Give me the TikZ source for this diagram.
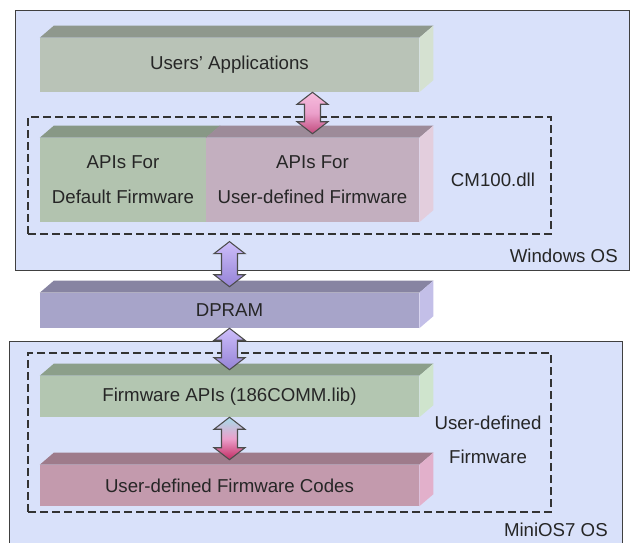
\documentclass[tikz,border=0pt]{standalone}
\usepackage{tikz}
\usepackage{xcolor}
\usepackage{fontspec}
\setmainfont{Liberation Sans}
\usetikzlibrary{calc}

\definecolor{osbg}{HTML}{D9E1FA}
\definecolor{uafront}{HTML}{B9C3B7}
\definecolor{uatop}{HTML}{8F988D}
\definecolor{uaside}{HTML}{D5E1D1}
\definecolor{deffront}{HTML}{B2C3AF}
\definecolor{deftop}{HTML}{889886}
\definecolor{usrfront}{HTML}{C3AFBF}
\definecolor{usrtop}{HTML}{9D8B99}
\definecolor{usrside}{HTML}{E3CEDD}
\definecolor{dpfront}{HTML}{A7A4C9}
\definecolor{dptop}{HTML}{8784A2}
\definecolor{dpside}{HTML}{C3BFE8}
\definecolor{fwfront}{HTML}{B3C6B1}
\definecolor{fwtop}{HTML}{8C9F8A}
\definecolor{fwside}{HTML}{CFE4CD}
\definecolor{cdfront}{HTML}{C39AAD}
\definecolor{cdtop}{HTML}{9E7B8B}
\definecolor{cdside}{HTML}{E2B0CB}
\definecolor{pinklt}{HTML}{F6BCDD}
\definecolor{pinkmd}{HTML}{EBA0CB}
\definecolor{pinkdk}{HTML}{C04A7C}
\definecolor{violt}{HTML}{CDBEFA}
\definecolor{viodk}{HTML}{9583D6}
\definecolor{cyanlt}{HTML}{A6DCEA}
\definecolor{magdk}{HTML}{C02A62}

\begin{document}
\begin{tikzpicture}[x=0.75pt,y=-0.75pt,
  cube/.style={inner sep=0pt, text=black!85, font=\fontsize{14}{26}\selectfont, align=center},
  osbox/.style={draw=black!75, fill=osbg, line width=0.75pt},
  grpbox/.style={draw=black!80, dash pattern=on 6pt off 3pt, line width=0.9pt, inner sep=0pt},
  txtlbl/.style={inner sep=0pt, text=black!85, font=\fontsize{14}{25.5}\selectfont, align=center},
  bigarrow/.style={draw=black!70, line width=0.8pt, to path={let \p1=(\tikztostart), \p2=(\tikztotarget) in
    (\x1,\y1) -- (\x1+11.6pt,\y1-9pt) -- (\x1+6pt,\y1-9pt) -- (\x1+6pt,\y2+9pt) -- (\x1+11.6pt,\y2+9pt)
    -- (\x1,\y2) -- (\x1-11.6pt,\y2+9pt) -- (\x1-6pt,\y2+9pt) -- (\x1-6pt,\y1-9pt) -- (\x1-11.6pt,\y1-9pt) -- cycle}}
]
\useasboundingbox (0,0) rectangle (633,543);

%Shape: Rectangle (Windows OS)
\draw[osbox] (15,10) rectangle (629,270);
%Shape: Rectangle (MiniOS7 OS)
\draw[osbox] (9,341) rectangle (622,560);

%Shape: Dashed Rectangle
\node[grpbox, minimum width=392.25pt, minimum height=87.75pt] (dll) at (289.5,175.5) {};
%Shape: Dashed Rectangle
\node[grpbox, minimum width=392.25pt, minimum height=119.25pt] (ufw) at (289.5,432.5) {};

%Shape: Cube
\node[cube, fill=uafront, minimum width=284.25pt, minimum height=40.5pt] (ua) at (229.5,65) {Users’ Applications};
\fill[uatop] (ua.north west) -- ++(14,-12) -- ($(ua.north east)+(14,-12)$) -- (ua.north east) -- cycle;
\fill[uaside] (ua.north east) -- ++(14,-12) -- ($(ua.south east)+(14,-12)$) -- (ua.south east) -- cycle;

%Shape: Cube
\node[cube, fill=deffront, minimum width=124.5pt, minimum height=63pt] (apidef) at (123,180) {APIs For\\Default Firmware};
\node[cube, fill=usrfront, minimum width=159.75pt, minimum height=63pt] (apiusr) at (312.5,180) {APIs For\\User-defined Firmware};
\fill[deftop] (apidef.north west) -- ++(14,-12) -- ($(apidef.north east)+(14,-12)$) -- (apidef.north east) -- cycle;
\fill[usrtop] (apiusr.north west) -- ++(14,-12) -- ($(apiusr.north east)+(14,-12)$) -- (apiusr.north east) -- cycle;
\fill[usrside] (apiusr.north east) -- ++(14,-12) -- ($(apiusr.south east)+(14,-12)$) -- (apiusr.south east) -- cycle;

%Shape: Cube
\node[cube, fill=dpfront, minimum width=284.25pt, minimum height=26.25pt] (dpram) at (229.5,310.5) {DPRAM};
\fill[dptop] (dpram.north west) -- ++(14,-12) -- ($(dpram.north east)+(14,-12)$) -- (dpram.north east) -- cycle;
\fill[dpside] (dpram.north east) -- ++(14,-12) -- ($(dpram.south east)+(14,-12)$) -- (dpram.south east) -- cycle;

%Shape: Cube
\node[cube, fill=fwfront, minimum width=284.25pt, minimum height=30.75pt] (fwapi) at (229.5,396.5) {Firmware APIs (186COMM.lib)};
\fill[fwtop] (fwapi.north west) -- ++(14,-12) -- ($(fwapi.north east)+(14,-12)$) -- (fwapi.north east) -- cycle;
\fill[fwside] (fwapi.north east) -- ++(14,-12) -- ($(fwapi.south east)+(14,-12)$) -- (fwapi.south east) -- cycle;

%Shape: Cube
\node[cube, fill=cdfront, minimum width=284.25pt, minimum height=30.75pt] (codes) at (229.5,485.5) {User-defined Firmware Codes};
\fill[cdtop] (codes.north west) -- ++(14,-12) -- ($(codes.north east)+(14,-12)$) -- (codes.north east) -- cycle;
\fill[cdside] (codes.north east) -- ++(14,-12) -- ($(codes.south east)+(14,-12)$) -- (codes.south east) -- cycle;

% Text Node
\node[txtlbl] (dllname) at (493,180) {CM100.dll};
% Text Node
\node[txtlbl] (ufwname) at (488,440) {User-defined\\Firmware};
% Text Node
\node[txtlbl, anchor=east] (winname) at (618,256) {Windows OS};
% Text Node
\node[txtlbl, anchor=east] (mininame) at (608,530) {MiniOS7 OS};

%Block Arrows
\path[bigarrow, top color=pinklt, bottom color=pinkdk, middle color=pinkmd] (ua.south -| apiusr.north) to ($(apiusr.north)+(0,-4)$);
\path[bigarrow, top color=violt, bottom color=viodk] ($(dll.south -| dpram.north)+(0,7)$) to ($(dpram.north)+(0,-6)$);
\path[bigarrow, top color=violt, bottom color=viodk] (dpram.south) to ($(fwapi.north)+(0,-6)$);
\path[bigarrow, top color=cyanlt, bottom color=magdk, middle color=pinkmd] (fwapi.south) to ($(codes.north)+(0,-5)$);

\end{tikzpicture}
\end{document}
